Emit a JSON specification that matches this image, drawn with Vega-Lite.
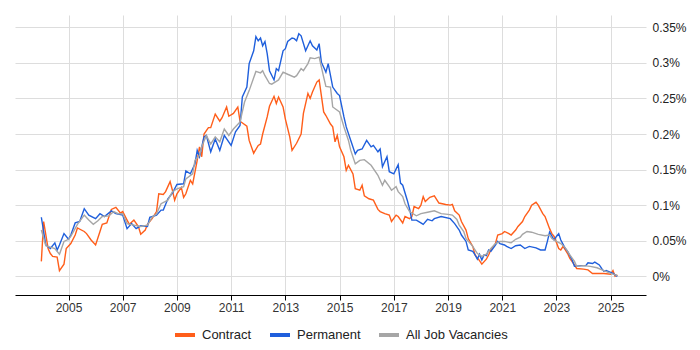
{
"$schema": "https://vega.github.io/schema/vega-lite/v6.json",
"width": 631, "height": 280,
"autosize": {"type": "none"},
"padding": {"left": 15, "top": 15, "right": 54, "bottom": 55},
"background": "white",
"config": {"font": "Liberation Sans", "view": {"stroke": null}},
"data": {"values": [
{"d":"2004-01","s":"Contract","v":0.021},{"d":"2004-02","s":"Contract","v":0.077},{"d":"2004-04","s":"Contract","v":0.039},{"d":"2004-05","s":"Contract","v":0.032},{"d":"2004-06","s":"Contract","v":0.028},{"d":"2004-08","s":"Contract","v":0.027},{"d":"2004-09","s":"Contract","v":0.008},{"d":"2004-11","s":"Contract","v":0.017},{"d":"2004-12","s":"Contract","v":0.039},
{"d":"2005-02","s":"Contract","v":0.046},{"d":"2005-04","s":"Contract","v":0.058},{"d":"2005-05","s":"Contract","v":0.068},{"d":"2005-08","s":"Contract","v":0.063},{"d":"2005-09","s":"Contract","v":0.060},{"d":"2005-11","s":"Contract","v":0.051},
{"d":"2006-01","s":"Contract","v":0.044},{"d":"2006-03","s":"Contract","v":0.063},{"d":"2006-04","s":"Contract","v":0.073},{"d":"2006-06","s":"Contract","v":0.075},{"d":"2006-08","s":"Contract","v":0.094},{"d":"2006-10","s":"Contract","v":0.097},{"d":"2006-12","s":"Contract","v":0.089},
{"d":"2007-01","s":"Contract","v":0.091},{"d":"2007-03","s":"Contract","v":0.079},{"d":"2007-04","s":"Contract","v":0.073},{"d":"2007-06","s":"Contract","v":0.079},{"d":"2007-08","s":"Contract","v":0.070},{"d":"2007-09","s":"Contract","v":0.059},{"d":"2007-11","s":"Contract","v":0.065},{"d":"2007-12","s":"Contract","v":0.073},
{"d":"2008-02","s":"Contract","v":0.081},{"d":"2008-04","s":"Contract","v":0.091},{"d":"2008-05","s":"Contract","v":0.116},{"d":"2008-07","s":"Contract","v":0.115},{"d":"2008-08","s":"Contract","v":0.119},{"d":"2008-10","s":"Contract","v":0.133},{"d":"2008-11","s":"Contract","v":0.121},{"d":"2008-12","s":"Contract","v":0.107},
{"d":"2009-01","s":"Contract","v":0.116},{"d":"2009-03","s":"Contract","v":0.125},{"d":"2009-04","s":"Contract","v":0.111},{"d":"2009-05","s":"Contract","v":0.116},{"d":"2009-07","s":"Contract","v":0.135},{"d":"2009-08","s":"Contract","v":0.130},{"d":"2009-10","s":"Contract","v":0.163},{"d":"2009-11","s":"Contract","v":0.182},{"d":"2009-12","s":"Contract","v":0.168},
{"d":"2010-01","s":"Contract","v":0.200},{"d":"2010-03","s":"Contract","v":0.209},{"d":"2010-04","s":"Contract","v":0.209},{"d":"2010-06","s":"Contract","v":0.228},{"d":"2010-08","s":"Contract","v":0.218},{"d":"2010-09","s":"Contract","v":0.223},{"d":"2010-11","s":"Contract","v":0.238},{"d":"2010-12","s":"Contract","v":0.225},
{"d":"2011-02","s":"Contract","v":0.229},{"d":"2011-04","s":"Contract","v":0.238},{"d":"2011-05","s":"Contract","v":0.218},{"d":"2011-08","s":"Contract","v":0.211},{"d":"2011-09","s":"Contract","v":0.191},{"d":"2011-11","s":"Contract","v":0.173},
{"d":"2012-01","s":"Contract","v":0.184},{"d":"2012-02","s":"Contract","v":0.186},{"d":"2012-03","s":"Contract","v":0.200},{"d":"2012-05","s":"Contract","v":0.224},{"d":"2012-06","s":"Contract","v":0.239},{"d":"2012-08","s":"Contract","v":0.253},{"d":"2012-09","s":"Contract","v":0.243},{"d":"2012-10","s":"Contract","v":0.252},{"d":"2012-12","s":"Contract","v":0.238},
{"d":"2013-01","s":"Contract","v":0.221},{"d":"2013-03","s":"Contract","v":0.196},{"d":"2013-04","s":"Contract","v":0.177},{"d":"2013-06","s":"Contract","v":0.187},{"d":"2013-08","s":"Contract","v":0.200},{"d":"2013-09","s":"Contract","v":0.229},{"d":"2013-11","s":"Contract","v":0.257},{"d":"2013-12","s":"Contract","v":0.250},
{"d":"2014-01","s":"Contract","v":0.259},{"d":"2014-03","s":"Contract","v":0.273},{"d":"2014-04","s":"Contract","v":0.276},{"d":"2014-05","s":"Contract","v":0.254},{"d":"2014-06","s":"Contract","v":0.231},{"d":"2014-07","s":"Contract","v":0.226},{"d":"2014-09","s":"Contract","v":0.214},{"d":"2014-10","s":"Contract","v":0.210},{"d":"2014-11","s":"Contract","v":0.189},{"d":"2014-12","s":"Contract","v":0.198},
{"d":"2015-01","s":"Contract","v":0.182},{"d":"2015-03","s":"Contract","v":0.168},{"d":"2015-04","s":"Contract","v":0.149},{"d":"2015-05","s":"Contract","v":0.156},{"d":"2015-07","s":"Contract","v":0.144},{"d":"2015-08","s":"Contract","v":0.123},{"d":"2015-10","s":"Contract","v":0.121},{"d":"2015-11","s":"Contract","v":0.128},{"d":"2015-12","s":"Contract","v":0.113},
{"d":"2016-02","s":"Contract","v":0.109},{"d":"2016-04","s":"Contract","v":0.107},{"d":"2016-06","s":"Contract","v":0.094},{"d":"2016-07","s":"Contract","v":0.091},{"d":"2016-09","s":"Contract","v":0.088},{"d":"2016-11","s":"Contract","v":0.086},{"d":"2016-12","s":"Contract","v":0.077},
{"d":"2017-02","s":"Contract","v":0.086},{"d":"2017-03","s":"Contract","v":0.084},{"d":"2017-05","s":"Contract","v":0.075},{"d":"2017-06","s":"Contract","v":0.084},{"d":"2017-08","s":"Contract","v":0.081},{"d":"2017-09","s":"Contract","v":0.084},{"d":"2017-10","s":"Contract","v":0.098},{"d":"2017-12","s":"Contract","v":0.095},
{"d":"2018-01","s":"Contract","v":0.100},{"d":"2018-02","s":"Contract","v":0.112},{"d":"2018-03","s":"Contract","v":0.105},{"d":"2018-05","s":"Contract","v":0.111},{"d":"2018-07","s":"Contract","v":0.113},{"d":"2018-09","s":"Contract","v":0.103},{"d":"2018-12","s":"Contract","v":0.101},
{"d":"2019-02","s":"Contract","v":0.100},{"d":"2019-03","s":"Contract","v":0.101},{"d":"2019-04","s":"Contract","v":0.092},{"d":"2019-06","s":"Contract","v":0.086},{"d":"2019-07","s":"Contract","v":0.077},{"d":"2019-09","s":"Contract","v":0.065},{"d":"2019-10","s":"Contract","v":0.053},{"d":"2019-12","s":"Contract","v":0.042},
{"d":"2020-01","s":"Contract","v":0.030},{"d":"2020-03","s":"Contract","v":0.022},{"d":"2020-04","s":"Contract","v":0.017},{"d":"2020-06","s":"Contract","v":0.024},{"d":"2020-07","s":"Contract","v":0.030},{"d":"2020-08","s":"Contract","v":0.037},{"d":"2020-10","s":"Contract","v":0.046},{"d":"2020-11","s":"Contract","v":0.058},
{"d":"2021-01","s":"Contract","v":0.060},{"d":"2021-02","s":"Contract","v":0.063},{"d":"2021-04","s":"Contract","v":0.060},{"d":"2021-05","s":"Contract","v":0.058},{"d":"2021-07","s":"Contract","v":0.065},{"d":"2021-08","s":"Contract","v":0.070},{"d":"2021-10","s":"Contract","v":0.077},{"d":"2021-11","s":"Contract","v":0.084},
{"d":"2022-01","s":"Contract","v":0.093},{"d":"2022-02","s":"Contract","v":0.100},{"d":"2022-04","s":"Contract","v":0.104},{"d":"2022-05","s":"Contract","v":0.100},{"d":"2022-07","s":"Contract","v":0.088},{"d":"2022-08","s":"Contract","v":0.084},{"d":"2022-10","s":"Contract","v":0.067},{"d":"2022-11","s":"Contract","v":0.060},{"d":"2022-12","s":"Contract","v":0.056},
{"d":"2023-02","s":"Contract","v":0.039},{"d":"2023-03","s":"Contract","v":0.037},{"d":"2023-04","s":"Contract","v":0.042},{"d":"2023-06","s":"Contract","v":0.032},{"d":"2023-07","s":"Contract","v":0.025},{"d":"2023-09","s":"Contract","v":0.016},{"d":"2023-10","s":"Contract","v":0.011},
{"d":"2024-01","s":"Contract","v":0.010},{"d":"2024-03","s":"Contract","v":0.009},{"d":"2024-05","s":"Contract","v":0.004},{"d":"2024-07","s":"Contract","v":0.004},{"d":"2024-10","s":"Contract","v":0.004},{"d":"2025-01","s":"Contract","v":0.003},{"d":"2025-02","s":"Contract","v":0.008},{"d":"2025-03","s":"Contract","v":0.000},{"d":"2025-04","s":"Contract","v":0.002},

{"d":"2004-01","s":"Permanent","v":0.083},{"d":"2004-03","s":"Permanent","v":0.044},{"d":"2004-05","s":"Permanent","v":0.039},{"d":"2004-07","s":"Permanent","v":0.047},{"d":"2004-08","s":"Permanent","v":0.037},{"d":"2004-09","s":"Permanent","v":0.044},{"d":"2004-11","s":"Permanent","v":0.060},
{"d":"2005-01","s":"Permanent","v":0.052},{"d":"2005-02","s":"Permanent","v":0.058},{"d":"2005-04","s":"Permanent","v":0.075},{"d":"2005-06","s":"Permanent","v":0.077},{"d":"2005-08","s":"Permanent","v":0.095},{"d":"2005-10","s":"Permanent","v":0.086},
{"d":"2006-01","s":"Permanent","v":0.081},{"d":"2006-03","s":"Permanent","v":0.088},{"d":"2006-05","s":"Permanent","v":0.084},{"d":"2006-08","s":"Permanent","v":0.092},{"d":"2006-10","s":"Permanent","v":0.088},
{"d":"2007-01","s":"Permanent","v":0.086},{"d":"2007-03","s":"Permanent","v":0.067},{"d":"2007-05","s":"Permanent","v":0.074},{"d":"2007-07","s":"Permanent","v":0.067},{"d":"2007-09","s":"Permanent","v":0.071},{"d":"2007-12","s":"Permanent","v":0.070},
{"d":"2008-01","s":"Permanent","v":0.083},{"d":"2008-04","s":"Permanent","v":0.086},{"d":"2008-06","s":"Permanent","v":0.093},{"d":"2008-07","s":"Permanent","v":0.093},{"d":"2008-09","s":"Permanent","v":0.109},{"d":"2008-11","s":"Permanent","v":0.117},
{"d":"2009-01","s":"Permanent","v":0.129},{"d":"2009-04","s":"Permanent","v":0.130},{"d":"2009-05","s":"Permanent","v":0.148},{"d":"2009-07","s":"Permanent","v":0.144},{"d":"2009-09","s":"Permanent","v":0.158},{"d":"2009-10","s":"Permanent","v":0.177},{"d":"2009-11","s":"Permanent","v":0.168},
{"d":"2010-01","s":"Permanent","v":0.196},{"d":"2010-02","s":"Permanent","v":0.198},{"d":"2010-04","s":"Permanent","v":0.175},{"d":"2010-06","s":"Permanent","v":0.193},{"d":"2010-08","s":"Permanent","v":0.177},{"d":"2010-10","s":"Permanent","v":0.198},
{"d":"2011-01","s":"Permanent","v":0.184},{"d":"2011-03","s":"Permanent","v":0.203},{"d":"2011-05","s":"Permanent","v":0.212},{"d":"2011-06","s":"Permanent","v":0.252},{"d":"2011-08","s":"Permanent","v":0.266},{"d":"2011-09","s":"Permanent","v":0.299},{"d":"2011-11","s":"Permanent","v":0.317},{"d":"2011-12","s":"Permanent","v":0.337},
{"d":"2012-01","s":"Permanent","v":0.331},{"d":"2012-02","s":"Permanent","v":0.335},{"d":"2012-03","s":"Permanent","v":0.324},{"d":"2012-04","s":"Permanent","v":0.330},{"d":"2012-05","s":"Permanent","v":0.313},{"d":"2012-06","s":"Permanent","v":0.289},{"d":"2012-08","s":"Permanent","v":0.276},{"d":"2012-09","s":"Permanent","v":0.292},{"d":"2012-10","s":"Permanent","v":0.289},{"d":"2012-12","s":"Permanent","v":0.317},
{"d":"2013-01","s":"Permanent","v":0.320},{"d":"2013-02","s":"Permanent","v":0.330},{"d":"2013-04","s":"Permanent","v":0.335},{"d":"2013-05","s":"Permanent","v":0.334},{"d":"2013-06","s":"Permanent","v":0.331},{"d":"2013-07","s":"Permanent","v":0.341},{"d":"2013-08","s":"Permanent","v":0.338},{"d":"2013-10","s":"Permanent","v":0.317},{"d":"2013-12","s":"Permanent","v":0.331},
{"d":"2014-01","s":"Permanent","v":0.324},{"d":"2014-03","s":"Permanent","v":0.318},{"d":"2014-04","s":"Permanent","v":0.327},{"d":"2014-05","s":"Permanent","v":0.301},{"d":"2014-07","s":"Permanent","v":0.287},{"d":"2014-08","s":"Permanent","v":0.299},{"d":"2014-10","s":"Permanent","v":0.266},{"d":"2014-12","s":"Permanent","v":0.257},
{"d":"2015-01","s":"Permanent","v":0.254},{"d":"2015-03","s":"Permanent","v":0.224},{"d":"2015-04","s":"Permanent","v":0.210},{"d":"2015-06","s":"Permanent","v":0.191},{"d":"2015-08","s":"Permanent","v":0.172},{"d":"2015-09","s":"Permanent","v":0.177},{"d":"2015-11","s":"Permanent","v":0.179},
{"d":"2016-01","s":"Permanent","v":0.191},{"d":"2016-03","s":"Permanent","v":0.182},{"d":"2016-04","s":"Permanent","v":0.184},{"d":"2016-06","s":"Permanent","v":0.175},{"d":"2016-07","s":"Permanent","v":0.179},{"d":"2016-08","s":"Permanent","v":0.154},{"d":"2016-10","s":"Permanent","v":0.168},{"d":"2016-11","s":"Permanent","v":0.147},
{"d":"2017-01","s":"Permanent","v":0.144},{"d":"2017-03","s":"Permanent","v":0.157},{"d":"2017-04","s":"Permanent","v":0.131},{"d":"2017-05","s":"Permanent","v":0.128},{"d":"2017-07","s":"Permanent","v":0.107},{"d":"2017-08","s":"Permanent","v":0.095},{"d":"2017-09","s":"Permanent","v":0.079},{"d":"2017-11","s":"Permanent","v":0.079},
{"d":"2018-01","s":"Permanent","v":0.075},{"d":"2018-02","s":"Permanent","v":0.073},{"d":"2018-04","s":"Permanent","v":0.080},{"d":"2018-06","s":"Permanent","v":0.078},{"d":"2018-07","s":"Permanent","v":0.081},{"d":"2018-10","s":"Permanent","v":0.084},
{"d":"2019-02","s":"Permanent","v":0.081},{"d":"2019-04","s":"Permanent","v":0.074},{"d":"2019-06","s":"Permanent","v":0.065},{"d":"2019-07","s":"Permanent","v":0.058},{"d":"2019-09","s":"Permanent","v":0.049},{"d":"2019-10","s":"Permanent","v":0.037},{"d":"2019-12","s":"Permanent","v":0.035},
{"d":"2020-01","s":"Permanent","v":0.030},{"d":"2020-02","s":"Permanent","v":0.024},{"d":"2020-03","s":"Permanent","v":0.031},{"d":"2020-04","s":"Permanent","v":0.023},{"d":"2020-05","s":"Permanent","v":0.030},{"d":"2020-06","s":"Permanent","v":0.029},{"d":"2020-07","s":"Permanent","v":0.037},{"d":"2020-08","s":"Permanent","v":0.035},{"d":"2020-10","s":"Permanent","v":0.044},{"d":"2020-11","s":"Permanent","v":0.049},{"d":"2020-12","s":"Permanent","v":0.046},
{"d":"2021-02","s":"Permanent","v":0.044},{"d":"2021-03","s":"Permanent","v":0.042},{"d":"2021-05","s":"Permanent","v":0.039},{"d":"2021-07","s":"Permanent","v":0.043},{"d":"2021-09","s":"Permanent","v":0.044},{"d":"2021-11","s":"Permanent","v":0.039},
{"d":"2022-01","s":"Permanent","v":0.042},{"d":"2022-04","s":"Permanent","v":0.040},{"d":"2022-06","s":"Permanent","v":0.037},{"d":"2022-08","s":"Permanent","v":0.037},{"d":"2022-09","s":"Permanent","v":0.049},{"d":"2022-10","s":"Permanent","v":0.062},{"d":"2022-12","s":"Permanent","v":0.051},
{"d":"2023-01","s":"Permanent","v":0.056},{"d":"2023-02","s":"Permanent","v":0.060},{"d":"2023-03","s":"Permanent","v":0.051},{"d":"2023-05","s":"Permanent","v":0.039},{"d":"2023-06","s":"Permanent","v":0.035},{"d":"2023-08","s":"Permanent","v":0.023},{"d":"2023-09","s":"Permanent","v":0.014},{"d":"2023-12","s":"Permanent","v":0.015},
{"d":"2024-02","s":"Permanent","v":0.015},{"d":"2024-03","s":"Permanent","v":0.019},{"d":"2024-05","s":"Permanent","v":0.018},{"d":"2024-06","s":"Permanent","v":0.020},{"d":"2024-08","s":"Permanent","v":0.016},{"d":"2024-09","s":"Permanent","v":0.011},{"d":"2024-10","s":"Permanent","v":0.007},{"d":"2024-11","s":"Permanent","v":0.008},{"d":"2025-02","s":"Permanent","v":0.004},{"d":"2025-04","s":"Permanent","v":0.000},

{"d":"2004-01","s":"All Job Vacancies","v":0.065},{"d":"2004-03","s":"All Job Vacancies","v":0.043},{"d":"2004-05","s":"All Job Vacancies","v":0.041},{"d":"2004-07","s":"All Job Vacancies","v":0.039},{"d":"2004-09","s":"All Job Vacancies","v":0.031},{"d":"2004-11","s":"All Job Vacancies","v":0.049},
{"d":"2005-01","s":"All Job Vacancies","v":0.052},{"d":"2005-02","s":"All Job Vacancies","v":0.056},{"d":"2005-05","s":"All Job Vacancies","v":0.073},{"d":"2005-08","s":"All Job Vacancies","v":0.086},{"d":"2005-10","s":"All Job Vacancies","v":0.079},{"d":"2005-12","s":"All Job Vacancies","v":0.073},
{"d":"2006-02","s":"All Job Vacancies","v":0.078},{"d":"2006-04","s":"All Job Vacancies","v":0.084},{"d":"2006-07","s":"All Job Vacancies","v":0.085},{"d":"2006-09","s":"All Job Vacancies","v":0.091},{"d":"2006-11","s":"All Job Vacancies","v":0.088},
{"d":"2007-01","s":"All Job Vacancies","v":0.088},{"d":"2007-03","s":"All Job Vacancies","v":0.074},{"d":"2007-06","s":"All Job Vacancies","v":0.072},{"d":"2007-09","s":"All Job Vacancies","v":0.070},{"d":"2007-12","s":"All Job Vacancies","v":0.072},
{"d":"2008-02","s":"All Job Vacancies","v":0.083},{"d":"2008-04","s":"All Job Vacancies","v":0.088},{"d":"2008-06","s":"All Job Vacancies","v":0.102},{"d":"2008-09","s":"All Job Vacancies","v":0.107},{"d":"2008-11","s":"All Job Vacancies","v":0.119},
{"d":"2009-01","s":"All Job Vacancies","v":0.123},{"d":"2009-04","s":"All Job Vacancies","v":0.126},{"d":"2009-05","s":"All Job Vacancies","v":0.137},{"d":"2009-08","s":"All Job Vacancies","v":0.144},{"d":"2009-09","s":"All Job Vacancies","v":0.163},{"d":"2009-11","s":"All Job Vacancies","v":0.170},{"d":"2009-12","s":"All Job Vacancies","v":0.182},
{"d":"2010-02","s":"All Job Vacancies","v":0.198},{"d":"2010-04","s":"All Job Vacancies","v":0.186},{"d":"2010-06","s":"All Job Vacancies","v":0.196},{"d":"2010-08","s":"All Job Vacancies","v":0.189},{"d":"2010-10","s":"All Job Vacancies","v":0.207},{"d":"2010-12","s":"All Job Vacancies","v":0.198},
{"d":"2011-02","s":"All Job Vacancies","v":0.207},{"d":"2011-05","s":"All Job Vacancies","v":0.217},{"d":"2011-07","s":"All Job Vacancies","v":0.245},{"d":"2011-09","s":"All Job Vacancies","v":0.261},{"d":"2011-12","s":"All Job Vacancies","v":0.288},
{"d":"2012-02","s":"All Job Vacancies","v":0.286},{"d":"2012-03","s":"All Job Vacancies","v":0.289},{"d":"2012-04","s":"All Job Vacancies","v":0.282},{"d":"2012-06","s":"All Job Vacancies","v":0.271},{"d":"2012-07","s":"All Job Vacancies","v":0.270},{"d":"2012-09","s":"All Job Vacancies","v":0.274},{"d":"2012-10","s":"All Job Vacancies","v":0.276},{"d":"2012-12","s":"All Job Vacancies","v":0.287},
{"d":"2013-02","s":"All Job Vacancies","v":0.284},{"d":"2013-05","s":"All Job Vacancies","v":0.280},{"d":"2013-06","s":"All Job Vacancies","v":0.282},{"d":"2013-08","s":"All Job Vacancies","v":0.292},{"d":"2013-09","s":"All Job Vacancies","v":0.289},{"d":"2013-11","s":"All Job Vacancies","v":0.299},{"d":"2013-12","s":"All Job Vacancies","v":0.307},
{"d":"2014-02","s":"All Job Vacancies","v":0.306},{"d":"2014-04","s":"All Job Vacancies","v":0.308},{"d":"2014-06","s":"All Job Vacancies","v":0.280},{"d":"2014-07","s":"All Job Vacancies","v":0.267},{"d":"2014-09","s":"All Job Vacancies","v":0.266},{"d":"2014-10","s":"All Job Vacancies","v":0.238},
{"d":"2015-01","s":"All Job Vacancies","v":0.231},{"d":"2015-03","s":"All Job Vacancies","v":0.210},{"d":"2015-05","s":"All Job Vacancies","v":0.191},{"d":"2015-06","s":"All Job Vacancies","v":0.177},{"d":"2015-08","s":"All Job Vacancies","v":0.158},{"d":"2015-10","s":"All Job Vacancies","v":0.163},{"d":"2015-12","s":"All Job Vacancies","v":0.164},
{"d":"2016-03","s":"All Job Vacancies","v":0.156},{"d":"2016-06","s":"All Job Vacancies","v":0.142},{"d":"2016-08","s":"All Job Vacancies","v":0.128},{"d":"2016-09","s":"All Job Vacancies","v":0.135},{"d":"2016-11","s":"All Job Vacancies","v":0.126},{"d":"2016-12","s":"All Job Vacancies","v":0.121},
{"d":"2017-02","s":"All Job Vacancies","v":0.126},{"d":"2017-03","s":"All Job Vacancies","v":0.119},{"d":"2017-05","s":"All Job Vacancies","v":0.112},{"d":"2017-06","s":"All Job Vacancies","v":0.102},{"d":"2017-08","s":"All Job Vacancies","v":0.091},{"d":"2017-11","s":"All Job Vacancies","v":0.085},
{"d":"2018-01","s":"All Job Vacancies","v":0.088},{"d":"2018-04","s":"All Job Vacancies","v":0.090},{"d":"2018-07","s":"All Job Vacancies","v":0.092},{"d":"2018-10","s":"All Job Vacancies","v":0.088},
{"d":"2019-01","s":"All Job Vacancies","v":0.087},{"d":"2019-03","s":"All Job Vacancies","v":0.086},{"d":"2019-05","s":"All Job Vacancies","v":0.080},{"d":"2019-06","s":"All Job Vacancies","v":0.072},{"d":"2019-08","s":"All Job Vacancies","v":0.063},{"d":"2019-09","s":"All Job Vacancies","v":0.053},{"d":"2019-12","s":"All Job Vacancies","v":0.042},
{"d":"2020-02","s":"All Job Vacancies","v":0.032},{"d":"2020-04","s":"All Job Vacancies","v":0.028},{"d":"2020-06","s":"All Job Vacancies","v":0.031},{"d":"2020-08","s":"All Job Vacancies","v":0.039},{"d":"2020-10","s":"All Job Vacancies","v":0.046},{"d":"2020-12","s":"All Job Vacancies","v":0.049},
{"d":"2021-02","s":"All Job Vacancies","v":0.049},{"d":"2021-05","s":"All Job Vacancies","v":0.047},{"d":"2021-07","s":"All Job Vacancies","v":0.052},{"d":"2021-09","s":"All Job Vacancies","v":0.055},{"d":"2021-10","s":"All Job Vacancies","v":0.059},{"d":"2021-12","s":"All Job Vacancies","v":0.063},
{"d":"2022-02","s":"All Job Vacancies","v":0.062},{"d":"2022-05","s":"All Job Vacancies","v":0.059},{"d":"2022-08","s":"All Job Vacancies","v":0.057},{"d":"2022-10","s":"All Job Vacancies","v":0.058},{"d":"2022-11","s":"All Job Vacancies","v":0.053},
{"d":"2023-01","s":"All Job Vacancies","v":0.049},{"d":"2023-03","s":"All Job Vacancies","v":0.046},{"d":"2023-05","s":"All Job Vacancies","v":0.040},{"d":"2023-07","s":"All Job Vacancies","v":0.030},{"d":"2023-09","s":"All Job Vacancies","v":0.021},{"d":"2023-10","s":"All Job Vacancies","v":0.014},
{"d":"2024-01","s":"All Job Vacancies","v":0.015},{"d":"2024-04","s":"All Job Vacancies","v":0.014},{"d":"2024-07","s":"All Job Vacancies","v":0.012},{"d":"2024-10","s":"All Job Vacancies","v":0.008},{"d":"2025-01","s":"All Job Vacancies","v":0.004},{"d":"2025-04","s":"All Job Vacancies","v":0.001}
]},
"mark": {"type": "line", "strokeWidth": 1.4},
"encoding": {
"x": {"field": "d", "type": "temporal",
 "scale": {"domain": [{"year": 2003, "month": 1, "date": 11}, {"year": 2026, "month": 4, "date": 22}]},
 "axis": {"title": null, "values": [{"year": 2005}, {"year": 2007}, {"year": 2009}, {"year": 2011}, {"year": 2013}, {"year": 2015}, {"year": 2017}, {"year": 2019}, {"year": 2021}, {"year": 2023}, {"year": 2025}],
  "format": "%Y", "grid": true, "gridColor": "#dddddd", "domainColor": "#000000", "tickColor": "#000000", "tickSize": 5, "labelFontSize": 12, "labelColor": "#333333", "labelPadding": 2}},
"y": {"field": "v", "type": "quantitative",
 "scale": {"domain": [-0.0263, 0.3673], "nice": false, "zero": false},
 "axis": {"title": null, "orient": "right", "values": [0, 0.05, 0.1, 0.15, 0.2, 0.25, 0.3, 0.35], "labelExpr": "format(datum.value, '.2~f') + '%'",
  "domain": false, "ticks": false, "gridColor": "#dddddd", "labelPadding": 6, "labelFontSize": 12, "labelColor": "#222222"}},
"color": {"field": "s", "type": "nominal",
 "scale": {"domain": ["Contract", "Permanent", "All Job Vacancies"], "range": ["#FF5E1A", "#1F5FDC", "#A6A6A6"]},
 "legend": {"title": null, "orient": "none", "legendX": 158, "legendY": 308, "direction": "horizontal", "symbolType": "stroke", "symbolStrokeWidth": 4, "symbolSize": 400, "labelFontSize": 13, "labelColor": "#222222", "columnPadding": 10, "labelOffset": 5}}
}
}
